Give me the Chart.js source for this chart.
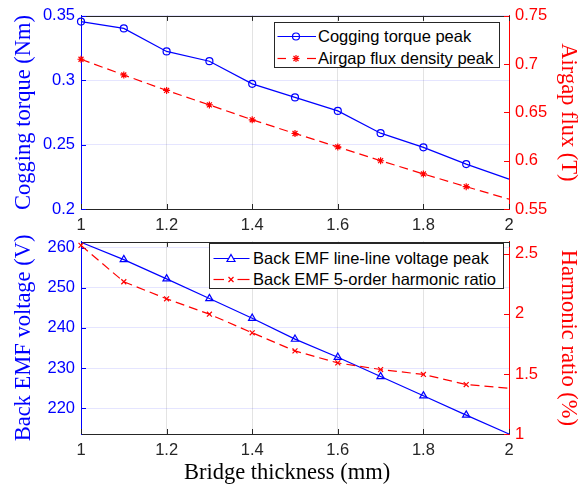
<!DOCTYPE html>
<html>
<head>
<meta charset="utf-8">
<script src="https://cdn.jsdelivr.net/npm/chart.js@4/dist/chart.umd.min.js"></script>
<style>
html,body{margin:0;padding:0;background:#fff;}
body{width:584px;height:487px;position:relative;overflow:hidden;}
canvas{position:absolute;left:0;}
#c1{top:0;}
#c2{top:226px;}
.legend{position:absolute;background:#fff;border:1px solid #262626;box-sizing:border-box;font-family:'Liberation Sans',Arial,sans-serif;font-size:16.5px;color:#000;}
.legend .row{position:absolute;left:0;height:20px;line-height:20px;white-space:nowrap;}
.legend svg{position:absolute;left:0;top:0;}
.legend span{position:absolute;top:0;}
.xtitle{position:absolute;font-family:'Liberation Serif','Times New Roman',serif;font-size:22.5px;color:#000;white-space:nowrap;line-height:26px;}
</style>
</head>
<body>
<canvas id="c1" width="584" height="240"></canvas>
<canvas id="c2" width="584" height="261"></canvas>

<div class="legend" style="left:274px;top:22px;width:226px;height:46px;">
  <div class="row" style="top:3px;">
    <svg width="44" height="20"><line x1="2.5" y1="10.5" x2="41" y2="10.5" stroke="#0000ff" stroke-width="1.2"/><circle cx="21" cy="10.5" r="3.5" fill="none" stroke="#0000ff" stroke-width="1.2"/></svg>
    <span style="left:43px;">Cogging torque peak</span>
  </div>
  <div class="row" style="top:24.5px;">
    <svg width="44" height="20"><line x1="2.5" y1="10.5" x2="11" y2="10.5" stroke="#ff0000" stroke-width="1.2"/><line x1="32" y1="10.5" x2="41" y2="10.5" stroke="#ff0000" stroke-width="1.2"/><g stroke="#ff0000" stroke-width="1.2"><line x1="17.5" y1="10.5" x2="24.5" y2="10.5"/><line x1="21" y1="7" x2="21" y2="14"/><line x1="18.5" y1="8" x2="23.5" y2="13"/><line x1="23.5" y1="8" x2="18.5" y2="13"/></g></svg>
    <span style="left:43px;">Airgap flux density peak</span>
  </div>
</div>

<div class="legend" style="left:209px;top:243px;width:295px;height:46px;">
  <div class="row" style="top:3.5px;">
    <svg width="44" height="20"><line x1="3.5" y1="10.5" x2="39.5" y2="10.5" stroke="#0000ff" stroke-width="1.2"/><polygon points="21,6.5 25,13.5 17,13.5" fill="#fff" stroke="#0000ff" stroke-width="1.2"/></svg>
    <span style="left:43px;">Back EMF line-line voltage peak</span>
  </div>
  <div class="row" style="top:25px;">
    <svg width="44" height="20"><line x1="3.5" y1="10.5" x2="14" y2="10.5" stroke="#ff0000" stroke-width="1.2"/><line x1="27.5" y1="10.5" x2="39.5" y2="10.5" stroke="#ff0000" stroke-width="1.2"/><g stroke="#ff0000" stroke-width="1.2"><line x1="18.5" y1="8" x2="23.5" y2="13"/><line x1="23.5" y1="8" x2="18.5" y2="13"/></g></svg>
    <span style="left:43px;">Back EMF 5-order harmonic ratio</span>
  </div>
</div>

<div class="xtitle" id="xt" style="left:184px;top:459px;">Bridge thickness (mm)</div>

<script>
// ---------- data ----------
const bridgeThickness = [1, 1.1, 1.2, 1.3, 1.4, 1.5, 1.6, 1.7, 1.8, 1.9, 2];
const coggingTorque   = [0.3456, 0.3403, 0.3224, 0.3148, 0.2972, 0.2867, 0.2762, 0.2589, 0.2479, 0.2349, 0.2232];
const airgapFlux      = [0.7051, 0.6888, 0.6728, 0.6578, 0.6424, 0.6282, 0.6143, 0.6000, 0.5863, 0.5731, 0.5602];
const backEmfVoltage  = [261.3, 257.0, 252.2, 247.3, 242.4, 237.2, 232.7, 227.9, 223.1, 218.3, 213.6];
const harmonicRatio   = [2.571, 2.268, 2.126, 1.998, 1.843, 1.692, 1.592, 1.537, 1.496, 1.412, 1.381];

const xTicks      = [1, 1.2, 1.4, 1.6, 1.8, 2];
const torqueTicks = [0.2, 0.25, 0.3, 0.35];
const fluxTicks   = [0.55, 0.6, 0.65, 0.7, 0.75];
const emfTicks    = [220, 230, 240, 250, 260];
const ratioTicks  = [1, 1.5, 2, 2.5];

// ---------- styling helpers ----------
const BLUE = '#0000ff', RED = '#ff0000', DARK = '#262626';
const SANS = "'Liberation Sans', Arial, sans-serif";
const SERIF = "'Liberation Serif', 'Times New Roman', serif";
const tickFont = {family: SANS, size: 16.5};
const titleFont = {family: SERIF, size: 22.5};

const setTicks = arr => scale => { scale.ticks = arr.map(v => ({value: v})); };
const pts = (arr) => arr.map((v, i) => ({x: bridgeThickness[i], y: v}));

const boxTicks = {
  id: 'boxTicks',
  beforeDatasetsDraw(chart) {
    const {ctx, chartArea: a, scales} = chart;
    const L = 5;
    const r = v => Math.round(v) + 0.5;
    const seg = (x1, y1, x2, y2, c) => { ctx.strokeStyle = c; ctx.beginPath(); ctx.moveTo(x1, y1); ctx.lineTo(x2, y2); ctx.stroke(); };
    ctx.save();
    ctx.lineWidth = 1;
    seg(a.left, r(a.top), a.right, r(a.top), DARK);
    scales.x.ticks.forEach(t => { const p = r(scales.x.getPixelForValue(t.value)); seg(p, a.top, p, a.top + L, DARK); seg(p, a.bottom, p, a.bottom - L, DARK); });
    scales.y.ticks.forEach(t => { const p = r(scales.y.getPixelForValue(t.value)); seg(a.left, p, a.left + L, p, BLUE); });
    scales.y1.ticks.forEach(t => { const p = r(scales.y1.getPixelForValue(t.value)); seg(a.right, p, a.right - L, p, RED); });
    ctx.restore();
  }
};

function xScale(height) {
  return {
    type: 'linear', min: 1, max: 2,
    afterBuildTicks: setTicks(xTicks),
    afterFit: s => { s.height = height; },
    grid: {color: 'rgba(38,38,38,0.13)', drawTicks: false, lineWidth: 1},
    border: {color: DARK, width: 1},
    ticks: {color: DARK, padding: 7, font: tickFont, callback: v => String(v)}
  };
}
function yLeft(min, max, ticks, title) {
  return {
    type: 'linear', position: 'left', min, max,
    afterBuildTicks: setTicks(ticks),
    afterFit: s => { s.width = 81; },
    grid: {color: 'rgba(0,0,255,0.1)', drawTicks: false},
    border: {color: BLUE, width: 1},
    ticks: {color: BLUE, padding: 6, font: tickFont, callback: v => String(v)},
    title: {display: true, text: title, color: BLUE, font: titleFont, padding: {top: 10.5, bottom: 0}}
  };
}
function yRight(min, max, ticks, title) {
  return {
    type: 'linear', position: 'right', min, max,
    afterBuildTicks: setTicks(ticks),
    afterFit: s => { s.width = 75; },
    grid: {display: false, drawTicks: false},
    border: {color: RED, width: 1},
    ticks: {color: RED, padding: 6, font: tickFont, callback: v => String(v)},
    title: {display: true, text: title, color: RED, font: titleFont, padding: {top: 2.5, bottom: 0}}
  };
}
function ds(data, axis, color, style, radius, dashed, hideIdx) {
  return {
    data: pts(data), yAxisID: axis,
    borderColor: color, borderWidth: 1.2, borderDash: dashed ? [9, 5] : [],
    pointStyle: style,
    pointRadius: c => hideIdx.includes(c.dataIndex) ? 0 : radius,
    pointBorderColor: color, pointBackgroundColor: 'rgba(0,0,0,0)', pointBorderWidth: 1.2,
    tension: 0, clip: 6, fill: false
  };
}
const common = {
  responsive: false, devicePixelRatio: 1, animation: false,
  plugins: {legend: {display: false}, tooltip: {enabled: false}},
  parsing: true
};

new Chart(document.getElementById('c1'), {
  type: 'line',
  data: {datasets: [
    ds(airgapFlux, 'y1', RED, 'star', 3.5, true, [10]),
    ds(coggingTorque, 'y', BLUE, 'circle', 3.5, false, [10])
  ]},
  options: Object.assign({}, common, {
    layout: {padding: {top: 13, left: 0, right: 0, bottom: 0}},
    scales: {
      x: xScale(31),
      y: yLeft(0.2, 0.35, torqueTicks, 'Cogging torque (Nm)'),
      y1: yRight(0.55, 0.75, fluxTicks, 'Airgap flux (T)')
    }
  }),
  plugins: [boxTicks]
});

new Chart(document.getElementById('c2'), {
  type: 'line',
  data: {datasets: [
    ds(harmonicRatio, 'y1', RED, 'crossRot', 3.5, true, [10]),
    ds(backEmfVoltage, 'y', BLUE, 'triangle', 4.2, false, [0, 10])
  ]},
  options: Object.assign({}, common, {
    layout: {padding: {top: 11, left: 0, right: 0, bottom: 0}},
    scales: {
      x: xScale(53),
      y: yLeft(213.6, 261.4, emfTicks, 'Back EMF voltage (V)'),
      y1: yRight(1, 2.6, ratioTicks, 'Harmonic ratio (%)')
    }
  }),
  plugins: [boxTicks]
});
</script>
</body>
</html>
